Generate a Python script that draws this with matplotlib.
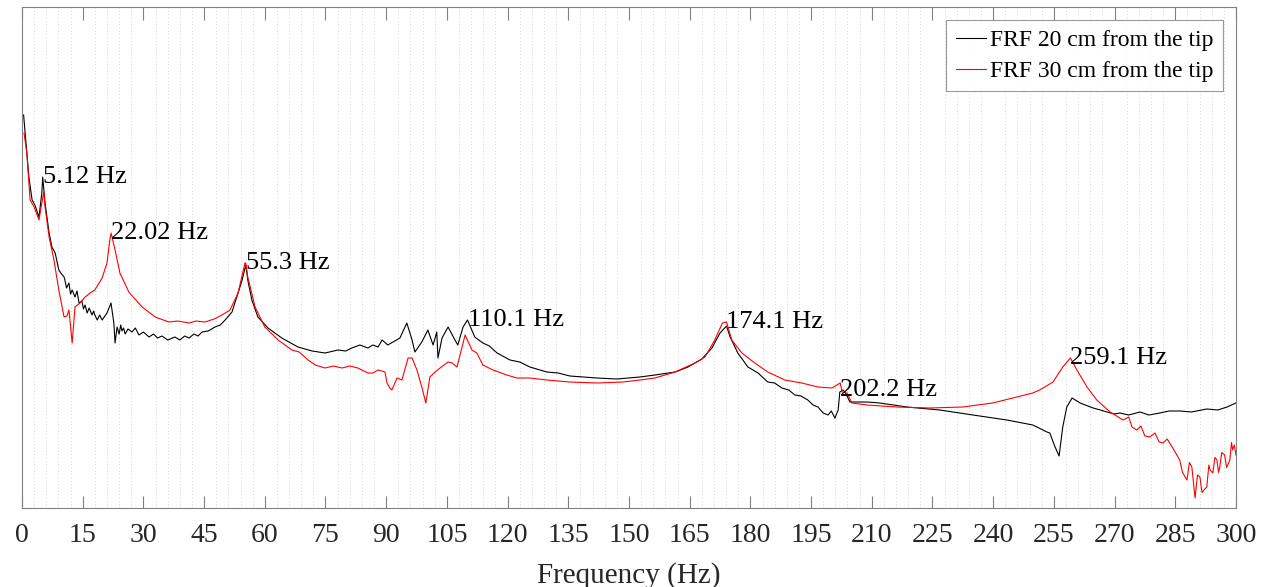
import numpy as np
import matplotlib.pyplot as plt
from matplotlib.ticker import MultipleLocator

plt.rcParams['font.family'] = ['Liberation Serif', 'DejaVu Serif']

# FRF 20 cm from the tip (frequency in Hz, magnitude in arbitrary units)
freq_20 = [0.4, 1.2, 1.7, 2.5, 3.2, 4.2, 4.9, 5.12, 5.7, 6.7, 7.4, 8.2, 9.1, 9.6, 10.4, 10.6,
           11.0, 11.6, 12.0, 12.4, 13.1, 13.6, 14.1, 14.8, 15.2, 15.6, 16.1, 16.6, 17.3, 17.7,
           18.0, 18.6, 19.2, 19.8, 21.0, 22.0, 22.7, 23.0, 23.5, 24.0, 24.4, 24.7, 25.1, 25.5,
           26.2, 27.2, 28.0, 28.9, 30.0, 31.4, 32.5, 33.5, 34.6, 36.0, 37.8, 39.0, 40.2, 41.3,
           42.5, 43.5, 44.5, 46.0, 47.7, 49.0, 50.2, 51.9, 53.4,
           54.4, 55.3, 55.8, 56.8, 58.3, 60.8, 64.2, 68.2, 71.7, 74.9, 78.1, 80.0, 81.5, 83.5,
           85.5, 86.7, 88.0, 89.0, 90.4, 91.7, 93.4, 95.1, 96.4, 97.1, 98.8, 100.3, 101.6,
           102.5, 102.8, 103.8, 105.3, 107.0, 107.7, 109.0, 110.1, 111.9, 113.9, 115.5, 117.4,
           120.6, 123.0, 125.5, 129.7, 132.5, 135.4, 142.1, 147.0, 152.7, 156.4, 161.4, 164.6,
           168.0, 170.5, 172.5, 174.1, 175.0, 176.9, 179.4, 181.9, 184.3, 186.0, 187.8, 189.5,
           191.0, 192.5, 194.2, 195.5, 196.7, 198.0, 199.2, 200.0, 200.9, 201.7, 202.1, 202.9,
           203.4, 204.6, 206.3, 208.8, 212.0, 218.7, 226.8, 235.0, 243.4, 249.8, 253.3, 254.0,
           255.3, 256.3, 257.2, 258.2, 259.5, 261.5, 264.7, 266.5, 268.1, 270.0, 271.3, 273.5,
           276.3, 278.5, 281.2, 283.5, 286.1, 289.0, 292.8, 295.5, 297.8, 300.0]
mag_20 = [77.0, 69.4, 64.6, 60.0, 59.0, 56.6, 61.4, 64.6, 59.4, 53.4, 50.6, 49.4, 46.0, 45.4,
          44.6, 44.0, 42.4, 43.4, 41.2, 42.0, 40.6, 41.8, 39.4, 39.8, 38.2, 39.0, 37.4, 38.4,
          37.0, 37.8, 37.0, 36.0, 37.0, 36.0, 37.4, 39.4, 35.4, 31.4, 34.6, 33.2, 35.0, 33.8,
          34.4, 33.2, 34.2, 33.6, 34.4, 33.0, 33.6, 32.6, 33.2, 32.4, 32.8, 32.0, 32.6, 32.0,
          32.8, 32.4, 33.2, 32.8, 33.6, 33.8, 34.6, 35.0, 36.0, 37.6, 41.4,
          44.0, 47.0, 44.0, 40.0, 36.6, 34.4, 32.4, 30.6, 29.8, 29.4, 30.0, 29.8, 30.4, 31.0,
          30.4, 31.0, 30.6, 32.0, 31.0, 31.6, 32.4, 35.4, 32.0, 29.6, 31.6, 34.0, 31.0,
          33.6, 28.4, 32.4, 34.6, 32.0, 31.0, 34.6, 36.0, 32.6, 31.4, 30.8, 29.4,
          28.0, 27.6, 26.6, 25.6, 25.4, 24.8, 24.4, 24.2, 24.6, 25.0, 25.6, 26.6,
          28.2, 30.4, 33.4, 34.8, 32.6, 29.4, 26.6, 25.4, 23.6, 23.4, 22.4, 22.0,
          21.0, 20.8, 20.0, 19.0, 18.6, 17.4, 17.0, 17.8, 16.4, 18.0, 21.6, 22.0,
          21.6, 19.6, 19.6, 19.6, 19.4, 18.6, 18.0, 17.0, 16.0, 15.0, 13.6, 13.4,
          10.6, 8.8, 14.6, 18.6, 20.4, 19.4, 18.4, 18.0, 17.6, 17.2, 17.4, 17.0,
          17.6, 17.0, 17.4, 17.8, 17.8, 17.6, 18.2, 18.0, 18.6, 19.4]

# FRF 30 cm from the tip
freq_30 = [0.5, 1.2, 2.0, 3.0, 4.2, 4.9, 5.4, 5.7, 6.7, 7.9, 9.1, 10.4, 11.1, 11.6, 12.4, 13.1,
           14.3, 15.6, 16.8, 18.0, 19.8, 21.0, 21.7, 22.02, 23.0, 24.2, 26.4, 29.7, 32.9, 36.3,
           38.5, 41.3, 43.0, 45.2, 47.5, 49.4, 51.4, 53.4, 55.1, 55.3, 55.8, 57.6, 60.0, 63.3,
           66.7, 68.5, 70.7, 72.5, 74.9, 77.0, 79.1, 81.0, 83.0, 85.5, 86.7, 88.0, 89.7, 90.2,
           90.9, 91.4, 92.7, 93.9, 95.4, 96.4, 97.6, 98.8, 99.8, 100.8, 102.1, 103.3, 105.3,
           106.3, 107.5, 109.5, 111.2, 112.4, 113.9, 116.4, 119.8, 122.3, 125.5, 129.7, 135.4,
           142.1, 148.5, 152.7, 156.4, 161.4, 166.3, 168.8, 171.2, 173.1, 174.1, 175.4, 177.9,
           181.1, 184.3, 188.5, 192.7, 196.7, 200.2, 202.2, 202.7, 203.9, 205.1, 208.8, 216.2,
           224.4, 232.5, 239.9, 244.9, 249.8, 251.5, 254.8, 257.2, 259.1, 260.7, 263.2, 265.6,
           268.9, 272.1, 273.5, 274.3, 275.5, 276.5, 277.5, 278.7, 280.0, 281.0, 282.0, 283.0,
           284.4, 286.1, 286.8, 287.9, 288.5, 289.1, 289.9, 290.5, 291.1, 291.6, 292.1, 292.8,
           293.3, 293.6, 294.3, 294.8, 295.3, 295.7, 296.0, 296.5, 297.2, 297.7, 298.5, 298.9,
           299.2, 299.6, 300.0]
mag_30 = [73.4, 69.4, 60.0, 58.6, 56.0, 59.4, 61.6, 58.6, 52.6, 48.0, 42.0, 36.6, 36.8, 38.0,
          31.4, 38.6, 39.4, 40.6, 41.4, 42.0, 44.4, 47.4, 52.0, 53.4, 50.0, 45.4, 41.6, 38.6,
          36.6, 35.6, 35.8, 35.4, 35.8, 35.6, 36.2, 37.0, 38.0, 41.4, 47.4, 47.4, 44.6, 38.6,
          34.6, 32.0, 30.0, 29.6, 28.0, 27.0, 26.4, 26.8, 26.4, 26.8, 26.4, 25.4, 25.4, 26.0,
          25.6, 23.4, 22.4, 22.0, 24.4, 24.0, 28.4, 28.4, 26.0, 22.6, 19.4, 24.6, 25.6, 26.4,
          27.6, 27.4, 26.6, 33.0, 30.0, 29.4, 27.0, 26.0, 25.0, 24.4, 24.4, 24.0, 23.6, 23.4,
          23.6, 24.0, 24.4, 25.6, 27.4, 28.6, 32.0, 35.4, 35.6, 32.0, 29.4, 27.4, 25.6, 24.0,
          23.4, 22.6, 22.4, 23.4, 21.6, 21.4, 19.4, 19.0, 18.6, 18.4, 18.6, 19.4, 20.4, 21.4,
          22.0, 23.6, 26.6, 28.4, 26.0, 22.6, 20.0, 17.6, 16.0, 16.6, 14.6, 14.0, 14.8, 12.8,
          12.6, 13.4, 11.6, 11.4, 12.2, 10.4, 8.0, 5.5, 4.0, 7.5, 6.6, 0.4, 5.0, 4.6, 1.5, 2.0,
          2.6, 7.0, 6.0, 5.4, 8.5, 8.0, 5.5, 6.6, 9.5, 9.0, 6.5, 8.0, 11.5, 10.0, 11.0, 9.0]

peak_freqs = [5.12, 22.02, 55.3, 110.1, 174.1, 202.2, 259.1]
peak_mags = [64.6, 53.4, 47.4, 36.0, 35.6, 22.0, 28.4]
peak_labels = ['5.12 Hz', '22.02 Hz', '55.3 Hz', '110.1 Hz', '174.1 Hz', '202.2 Hz', '259.1 Hz']

fig = plt.figure(figsize=(12.64, 5.87), dpi=100)
ax = fig.add_axes([0.0174, 0.1346, 0.9604, 0.8534])

ax.plot(freq_20, mag_20, color='black', lw=0.8, label='FRF 20 cm from the tip')
ax.plot(freq_30, mag_30, color='red', lw=0.8, label='FRF 30 cm from the tip')

for f, m, lab in zip(peak_freqs, peak_mags, peak_labels):
    ax.text(f, m, lab, fontsize=19, ha='left', va='center', color='black')

ax.set_xlim(0, 300)
ax.set_ylim(-1.6, 98.6)
ax.xaxis.set_major_locator(MultipleLocator(15))
ax.xaxis.set_minor_locator(MultipleLocator(3))
ax.set_yticks([])
ax.tick_params(axis='x', which='major', direction='in', length=9, width=0.8,
               top=True, labelsize=20, labelcolor='#262626', color='#808080', pad=11)
ax.tick_params(axis='x', which='minor', length=0, top=False)
ax.grid(which='minor', axis='x', linestyle=(0, (1, 3)), color='#c8c8c8', lw=0.6)
for s in ax.spines.values():
    s.set_color('#808080')
    s.set_linewidth(0.8)

ax.set_xlabel('Frequency (Hz)', fontsize=21, color='#262626', labelpad=10)

leg = ax.legend(loc='upper right', bbox_to_anchor=(0.989, 0.974), fontsize=17,
                frameon=True, fancybox=False, edgecolor='#808080', handlelength=1.3,
                handletextpad=0.15, borderpad=0.4, labelspacing=0.4, borderaxespad=0)
leg.get_frame().set_linewidth(0.8)

fig.savefig('out.png', dpi=100)
